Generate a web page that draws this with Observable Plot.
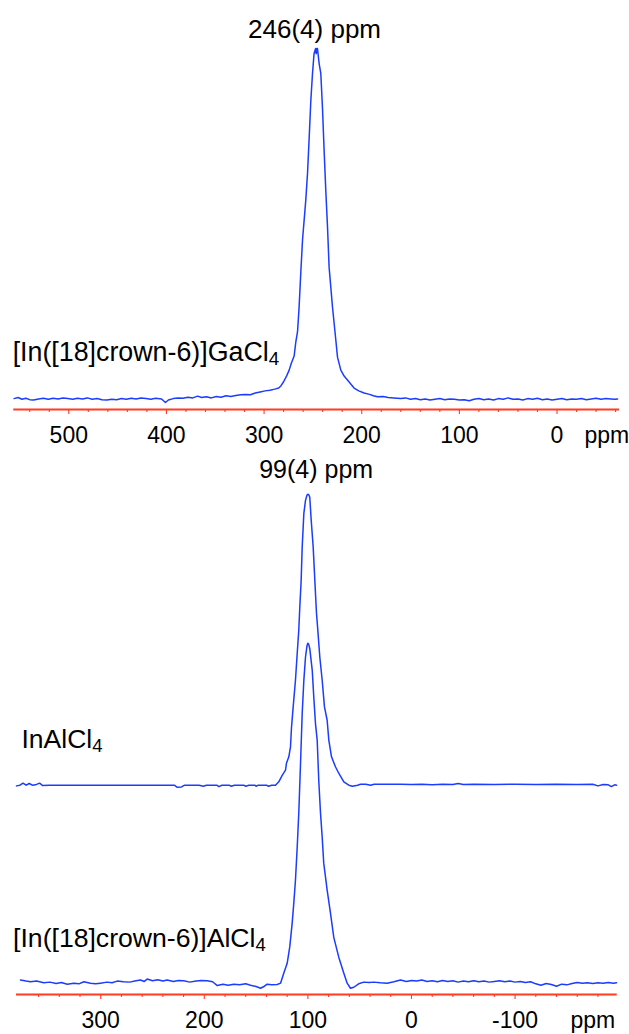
<!DOCTYPE html>
<html>
<head>
<meta charset="utf-8">
<script src="https://cdn.jsdelivr.net/npm/d3@7"></script>
<script src="https://cdn.jsdelivr.net/npm/@observablehq/plot@0.6"></script>
<style>
html, body { margin: 0; padding: 0; background: #fff; }
#wrap { position: relative; width: 629px; height: 1034px; overflow: hidden; background: #fff; }
#top { position: absolute; left: 0; top: 0; }
#bottom { position: absolute; left: 0; top: 450px; }
svg { overflow: visible; }
</style>
</head>
<body>
<div id="wrap"><div id="top"></div><div id="bottom"></div></div>
<script>
// ---------- DATA ----------
const topTitle = "246(4) ppm";
const bottomTitle = "99(4) ppm";
const topLabel = "[In([18]crown-6)]GaCl_4";
const upperLabel = "InAlCl_4";
const lowerLabel = "[In([18]crown-6)]AlCl_4";
const axisUnit = "ppm";

const topMajorTicks = [500, 400, 300, 200, 100, 0];
const topMinorTicks = [540, 520, 480, 460, 440, 420, 380, 360, 340, 320, 280, 260, 240, 220, 180, 160, 140, 120, 80, 60, 40, 20, -20, -40, -60];
const bottomMajorTicks = [300, 200, 100, 0, -100];
const bottomMinorTicks = [360, 340, 320, 280, 260, 240, 220, 180, 160, 140, 120, 80, 60, 40, 20, -20, -40, -60, -80, -120, -140, -160, -180];

// [ppm, intensity]  -- [In([18]crown-6)]GaCl4
const gaCl4Spectrum = [
  [556, 0.004], [552, 0.007], [548, 0.002], [544, 0.005], [540, 0.001], [536, 0.000], [531, 0.003], [526, 0.005],
  [521, 0.002], [516, 0.005], [511, 0.003], [506, 0.006], [501, 0.004], [496, 0.002], [491, 0.005], [486, 0.003],
  [481, 0.006], [476, 0.002], [471, 0.004], [466, 0.001], [461, 0.000], [456, 0.002], [451, 0.001], [446, 0.004],
  [441, 0.002], [436, 0.005], [431, 0.003], [426, 0.006], [421, 0.004], [416, 0.002], [411, 0.005], [405, 0.003],
  [401, -0.007], [398, 0.000], [393, 0.004], [388, 0.006], [383, 0.005], [378, 0.008], [373, 0.006], [368, 0.011],
  [364, 0.007], [359, 0.009], [354, 0.006], [349, 0.010], [344, 0.008], [339, 0.012], [334, 0.010], [329, 0.013],
  [324, 0.015], [319, 0.016], [314, 0.015], [309, 0.020], [304, 0.023], [299, 0.026], [294, 0.028], [289, 0.031],
  [285, 0.034], [282.8, 0.040], [280, 0.052], [277, 0.068], [274.3, 0.085], [272, 0.105], [269.2, 0.125],
  [267.5, 0.165], [265.7, 0.195], [264.1, 0.265], [262.4, 0.362], [260.6, 0.456], [257.3, 0.568], [255.5, 0.645],
  [253.9, 0.740], [252.1, 0.852], [250.4, 0.929], [248.8, 0.986], [247.2, 1.0], [246.6, 0.985], [246.0, 1.0],
  [245.3, 1.0], [243.6, 0.957], [241.9, 0.929], [240.2, 0.832], [238.5, 0.710], [236.8, 0.597], [235.0, 0.491],
  [233.4, 0.378], [229.9, 0.264], [226.5, 0.170], [224.8, 0.122], [221.4, 0.085], [218, 0.068], [214.6, 0.057],
  [211, 0.045], [207.8, 0.034], [203, 0.026], [197.6, 0.020], [192, 0.016], [188, 0.012], [183.9, 0.009],
  [178, 0.010], [173, 0.007], [167.2, 0.006], [160, 0.004], [155, 0.006], [150, 0.002], [145, 0.004], [140, 0.001],
  [135, 0.003], [130, 0.000], [125, 0.002], [120, 0.004], [115, 0.001], [110, 0.003], [105, 0.002], [100, 0.000],
  [95, 0.001], [90, -0.002], [85, 0.002], [80, 0.004], [75, 0.001], [70, 0.003], [65, 0.000], [60, 0.004],
  [55, 0.002], [50, 0.006], [45, 0.002], [40, 0.003], [35, 0.000], [30, 0.004], [25, 0.002], [20, 0.005],
  [15, 0.001], [10, 0.003], [5, 0.000], [0, 0.002], [-5, 0.004], [-10, 0.001], [-15, 0.003], [-20, 0.002],
  [-25, 0.004], [-30, 0.001], [-35, 0.003], [-40, 0.005], [-45, 0.002], [-50, 0.004], [-55, 0.003], [-60, 0.002],
  [-62, 0.003]
];

// [ppm, intensity]  -- InAlCl4 (upper trace)
const inAlCl4Spectrum = [
  [381.3, -0.002], [378, 0.000], [375, 0.006], [372, 0.000], [369, 0.005], [366, 0.000], [363, 0.001], [359, 0.006],
  [356, -0.001], [350, 0.000], [340, 0.000], [320, 0.000], [300, 0.000], [280, 0.000], [260, 0.000], [240, 0.000],
  [229, 0.000], [226, -0.006], [222, -0.005], [219, 0.000], [205, 0.000], [201, -0.003], [198, 0.000], [188, 0.000],
  [186, -0.004], [183, 0.000], [176, 0.000], [174, -0.003], [171, 0.000], [162, 0.000], [160, -0.003], [157, 0.000],
  [151, 0.000], [150, -0.003], [148, 0.000], [140, 0.000], [138, -0.003], [135, 0.000], [131.3, 0.000],
  [128.1, 0.010], [124.8, 0.029], [121.6, 0.044], [120.7, 0.064], [118.4, 0.083], [116.8, 0.112], [115.8, 0.170],
  [114.2, 0.229], [112.0, 0.307], [110.3, 0.386], [108.8, 0.453], [107.8, 0.521], [106.5, 0.599], [105.5, 0.697],
  [103.9, 0.795], [102.3, 0.833], [100.9, 0.848], [100.1, 0.851], [99.2, 0.850], [98.2, 0.843], [96.8, 0.775],
  [94.9, 0.697], [93.3, 0.599], [91.7, 0.503], [90.4, 0.453], [88.5, 0.375], [86.2, 0.307], [84.0, 0.229],
  [81.4, 0.190], [79.8, 0.132], [77.2, 0.083], [73.4, 0.054], [70.2, 0.035], [65.3, 0.010], [60.5, 0.000],
  [57, -0.003], [52, 0.000], [49.2, 0.003], [44, 0.003], [39.6, 0.000], [36, 0.003], [33.1, 0.003], [20, 0.003],
  [10.6, 0.003], [0, 0.002], [-10, 0.003], [-20, 0.001], [-30, 0.003], [-40, 0.002], [-45, 0.005], [-50, 0.002],
  [-60, 0.003], [-80, 0.002], [-100, 0.003], [-120, 0.002], [-140, 0.003], [-160, 0.002], [-175, 0.003],
  [-180, -0.002], [-185, 0.002], [-190, 0.001], [-193, -0.004], [-196, 0.001], [-198, 0.000]
];

// [ppm, intensity]  -- [In([18]crown-6)]AlCl4 (lower trace)
const crownAlCl4Spectrum = [
  [377.4, 0.015], [372, 0.012], [367.7, 0.010], [362, 0.012], [354.9, 0.007], [349, 0.009], [343, 0.005], [338, 0.008],
  [332.3, 0.003], [326, 0.006], [321, 0.004], [316.3, 0.010], [310, 0.006], [305, 0.004], [300.2, 0.006], [294, 0.009],
  [289, 0.007], [284.1, 0.012], [278, 0.010], [272, 0.009], [266, 0.013], [261.6, 0.015], [258, 0.011], [255.1, 0.018],
  [250, 0.013], [245, 0.016], [240, 0.012], [235.8, 0.015], [230, 0.011], [225, 0.014], [219.8, 0.013], [214, 0.009],
  [208, 0.012], [203, 0.014], [197.2, 0.013], [192, 0.010], [187.5, -0.001], [182, 0.003], [177, 0.000], [171.5, 0.003],
  [166, 0.001], [160, 0.004], [155.4, 0.000], [150, -0.004], [145.7, -0.009], [142, -0.003], [139.3, 0.003],
  [135, 0.001], [129.6, 0.002], [126.4, 0.006], [123.3, 0.035], [120.0, 0.064], [117.5, 0.112], [115.2, 0.181],
  [113.6, 0.240], [112.0, 0.307], [110.3, 0.404], [108.8, 0.503], [107.1, 0.649], [105.5, 0.795], [103.9, 0.892],
  [102.3, 0.960], [100.9, 0.992], [100.1, 1.0], [99.2, 0.997], [98.2, 0.985], [95.8, 0.921], [94.3, 0.842],
  [92.7, 0.766], [91.0, 0.716], [89.5, 0.599], [87.8, 0.503], [86.2, 0.433], [84.7, 0.357], [81.4, 0.278],
  [78.2, 0.211], [75.0, 0.140], [70.2, 0.082], [65.3, 0.035], [62.1, 0.006], [58.9, -0.009], [55.7, -0.006],
  [51, 0.004], [46.0, 0.009], [41, 0.008], [36.4, 0.009], [30, 0.007], [23.5, 0.006], [17, 0.010], [10.6, 0.015],
  [5, 0.011], [0, 0.014], [-5, 0.012], [-10, 0.015], [-15, 0.011], [-20, 0.013], [-25, 0.010], [-30, 0.014],
  [-35, 0.011], [-40, 0.013], [-45, 0.009], [-50, 0.012], [-55, 0.010], [-60, 0.013], [-65, 0.010], [-70, 0.012],
  [-75, 0.009], [-80, 0.011], [-85, 0.013], [-90, 0.010], [-95, 0.012], [-100, 0.009], [-105, 0.011], [-110, 0.008],
  [-115, 0.010], [-120, 0.004], [-125, 0.000], [-130, 0.005], [-135, 0.002], [-140, -0.003], [-145, 0.003],
  [-150, 0.001], [-155, 0.005], [-160, 0.008], [-165, 0.006], [-170, 0.007], [-175, 0.005], [-180, 0.007],
  [-185, 0.006], [-190, 0.008], [-195, 0.006], [-198, 0.007]
];

// ---------- STYLE ----------
const BLUE = "#1c3cff";
const RED = "#ff3b21";
const FONT = "'Liberation Sans', Arial, Helvetica, sans-serif";

function applySubscripts(svg) {
  svg.querySelectorAll("text").forEach(t => {
    if (t.querySelector("tspan")) return;
    const s = t.textContent;
    const m = s.match(/^(.*)_(\w+)$/);
    if (!m) return;
    t.textContent = m[1];
    const sub = document.createElementNS("http://www.w3.org/2000/svg", "tspan");
    sub.setAttribute("font-size", "0.7em");
    sub.setAttribute("dy", "0.22em");
    sub.textContent = m[2];
    t.appendChild(sub);
  });
  return svg;
}

function axisMarks(yMin, major, minor, unitX) {
  return [
    Plot.ruleY([yMin], {stroke: RED, strokeWidth: 1.8}),
    Plot.axisX(minor, {tickSize: 3, stroke: RED, strokeWidth: 1.1, tickFormat: () => "", label: null}),
    Plot.axisX(major, {tickSize: 5, stroke: RED, strokeWidth: 1.1, tickPadding: 12, fontSize: 23,
      fill: "black", tickFormat: d => String(d), label: null}),
    Plot.text([axisUnit], {x: unitX, y: yMin, text: d => d, lineAnchor: "top", dy: 17, fontSize: 23, fill: "black"})
  ];
}

// ---------- TOP PANEL ----------
const topYMin = -0.027;
const topPlot = Plot.plot({
  width: 629, height: 450,
  marginLeft: 13.3, marginRight: 10, marginTop: 48, marginBottom: 41,
  style: {fontFamily: FONT, background: "#fff", color: "black"},
  x: {domain: [556.3, -64]},
  y: {domain: [topYMin, 1], axis: null},
  marks: [
    ...axisMarks(topYMin, topMajorTicks, topMinorTicks, -51),
    Plot.line(gaCl4Spectrum, {x: d => d[0], y: d => d[1], stroke: BLUE, strokeWidth: 1.5}),
    Plot.text([topTitle], {x: 248.3, frameAnchor: "top", lineAnchor: "bottom", dy: -11, fontSize: 26, fill: "black"}),
    Plot.text([topLabel], {x: 557.5, y: 0.111, textAnchor: "start", lineAnchor: "bottom", fontSize: 26.8, fill: "black"})
  ]
});
document.getElementById("top").appendChild(applySubscripts(topPlot));

// ---------- BOTTOM PANEL ----------
const bottomYMin = -0.0272;
const upperOffset = 0.585;
const bottomPlot = Plot.plot({
  width: 629, height: 584,
  marginLeft: 16, marginRight: 12.3, marginTop: 40, marginBottom: 40,
  style: {fontFamily: FONT, background: "#fff", color: "black"},
  x: {domain: [381.3, -198.6]},
  y: {domain: [bottomYMin, 1.447], axis: null},
  marks: [
    ...axisMarks(bottomYMin, bottomMajorTicks, bottomMinorTicks, -175),
    Plot.line(inAlCl4Spectrum, {x: d => d[0], y: d => d[1] + upperOffset, stroke: BLUE, strokeWidth: 1.5}),
    Plot.line(crownAlCl4Spectrum, {x: d => d[0], y: d => d[1], stroke: BLUE, strokeWidth: 1.5}),
    Plot.text([bottomTitle], {x: 92, frameAnchor: "top", lineAnchor: "bottom", dy: -13, fontSize: 25, fill: "black"}),
    Plot.text([upperLabel], {x: 376.5, y: 0.693, textAnchor: "start", lineAnchor: "bottom", fontSize: 26.5, fill: "black"}),
    Plot.text([lowerLabel], {x: 384.6, y: 0.111, textAnchor: "start", lineAnchor: "bottom", fontSize: 26.6, fill: "black"})
  ]
});
document.getElementById("bottom").appendChild(applySubscripts(bottomPlot));
</script>
</body>
</html>
